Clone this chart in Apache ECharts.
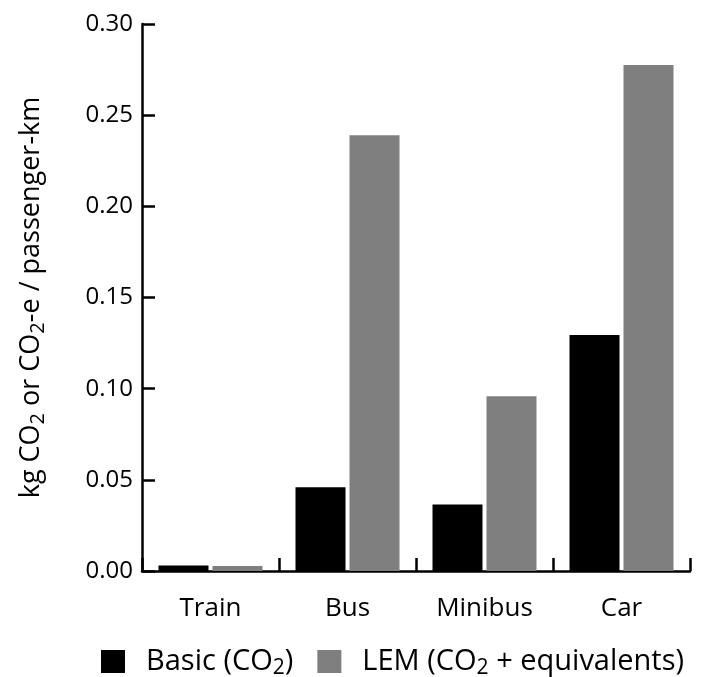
<!DOCTYPE html>
<html>
<head>
<meta charset="utf-8">
<script src="https://cdn.jsdelivr.net/npm/echarts@6/dist/echarts.min.js"></script>
<style>html,body{margin:0;padding:0;background:#fff;}#c{width:701px;height:677px;}</style>
</head>
<body>
<div id="c"></div>
<script>
var categories = ['Train', 'Bus', 'Minibus', 'Car'];
var basicValues = [0.003, 0.046, 0.0365, 0.1295];
var lemValues = [0.0027, 0.239, 0.0958, 0.2775];
var seriesNames = ['Basic', 'LEM'];
var yTicks = { min: 0, max: 0.30, interval: 0.05 };

var FONT = 'Open Sans';
var chart = echarts.init(document.getElementById('c'), null, { renderer: 'canvas' });
var subStyle = function (size, pad) {
  return { fontSize: size, fontFamily: FONT, color: '#000', padding: [pad, 0, 0, 0] };
};
var option = {
  animation: false,
  backgroundColor: '#fff',
  grid: { left: 142, right: 11, top: 24, bottom: 106 },
  legend: {
    left: 96,
    top: 642,
    itemWidth: 24,
    itemHeight: 23,
    itemGap: 24,
    icon: 'rect',
    data: seriesNames,
    formatter: function (name) {
      if (name === 'Basic') return '{n|Basic (CO}{s|2}{n|)}';
      return '{n|LEM (CO}{s|2}{n| + equivalents)}';
    },
    textStyle: {
      padding: [0, 0, 0, 16],
      rich: {
        n: { fontSize: 29, fontFamily: FONT, color: '#000' },
        s: subStyle(21, 14)
      }
    }
  },
  xAxis: {
    type: 'category',
    data: categories,
    axisLine: { lineStyle: { color: '#000', width: 2.5 } },
    axisTick: { show: true, inside: true, length: 13, alignWithLabel: false, lineStyle: { color: '#000', width: 2.5 } },
    axisLabel: { color: '#000', fontSize: 26, fontFamily: FONT, margin: 25 }
  },
  yAxis: {
    type: 'value',
    min: yTicks.min,
    max: yTicks.max,
    interval: yTicks.interval,
    splitLine: { show: false },
    axisLine: { show: true, lineStyle: { color: '#000', width: 2.5 } },
    axisTick: { show: true, inside: true, length: 13, lineStyle: { color: '#000', width: 2.5 } },
    axisLabel: {
      color: '#000', fontSize: 24, fontFamily: FONT, margin: 9,
      formatter: function (v) { return v.toFixed(2); }
    },
    name: '{n|kg CO}{s|2}{n| or CO}{s|2}{n|-e / passenger-km}',
    nameLocation: 'middle',
    nameGap: 94,
    nameRotate: 90,
    nameTextStyle: {
      rich: {
        n: { fontSize: 27, fontFamily: FONT, color: '#000' },
        s: subStyle(20, 13)
      }
    }
  },
  series: [
    {
      name: 'Basic', type: 'bar', data: basicValues,
      barWidth: 50, barGap: '8%',
      itemStyle: { color: '#000' }
    },
    {
      name: 'LEM', type: 'bar', data: lemValues,
      barWidth: 50, barGap: '8%',
      itemStyle: { color: '#7f7f7f' }
    }
  ]
};
chart.setOption(option);
</script>
</body>
</html>
